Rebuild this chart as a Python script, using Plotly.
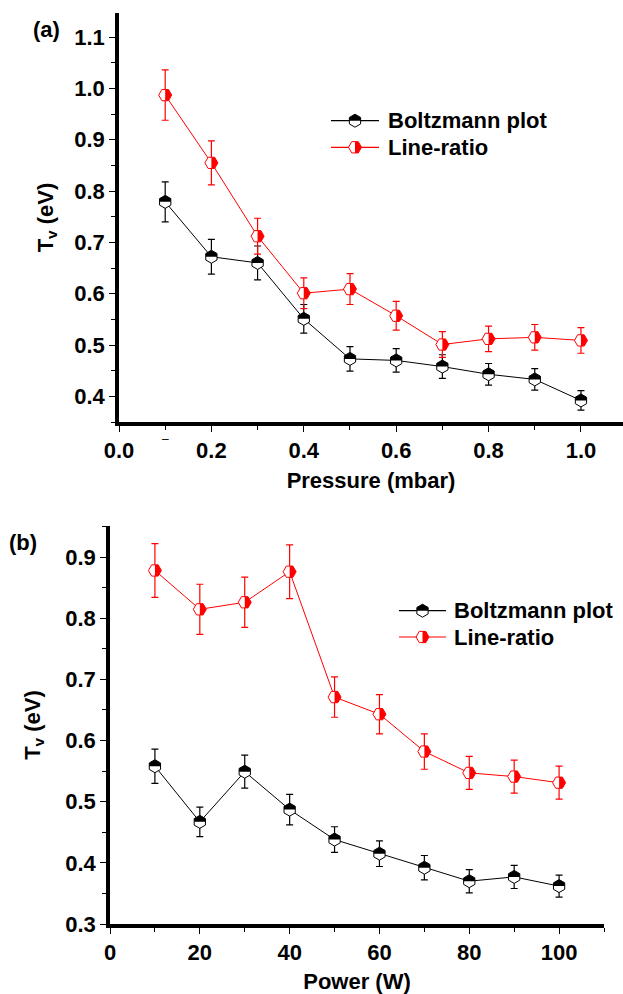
import math
import plotly.graph_objects as go

# ---------------- data ----------------
pressure = [0.1, 0.2, 0.3, 0.4, 0.5, 0.6, 0.7, 0.8, 0.9, 1.0]
a_boltz = [0.779, 0.672, 0.660, 0.551, 0.473, 0.470, 0.458, 0.443, 0.433, 0.392]
a_boltz_err = [0.039, 0.034, 0.033, 0.028, 0.024, 0.023, 0.023, 0.021, 0.021, 0.019]
a_ratio = [0.987, 0.855, 0.712, 0.601, 0.609, 0.557, 0.501, 0.512, 0.515, 0.509]
a_ratio_err = [0.049, 0.043, 0.035, 0.030, 0.030, 0.028, 0.025, 0.025, 0.025, 0.025]

power = [10, 20, 30, 40, 50, 60, 70, 80, 90, 100]
b_boltz = [0.558, 0.467, 0.549, 0.487, 0.438, 0.415, 0.392, 0.370, 0.377, 0.362]
b_boltz_err = [0.028, 0.024, 0.027, 0.025, 0.021, 0.021, 0.020, 0.019, 0.019, 0.018]
b_ratio = [0.878, 0.8145, 0.826, 0.876, 0.671, 0.643, 0.582, 0.547, 0.541, 0.531]
b_ratio_err = [0.044, 0.041, 0.041, 0.044, 0.033, 0.032, 0.029, 0.027, 0.027, 0.027]

series_names = ["Boltzmann plot", "Line-ratio"]
colors = ["black", "#ff0000"]

W, H = 623, 994
FONT = "Liberation Sans, Arial, sans-serif"
FS = 22
MS = 13  # marker size
R = MS / 2.0


def px_x(p):
    return p / W


def px_y(p):
    return 1 - p / H


def hex_top_half(r):
    h1 = r / 2
    h2 = r * math.sqrt(3) / 2
    return (f"M{h2:.2f},0 L{h2:.2f},{h1:.2f} L0,{r:.2f} "
            f"L{-h2:.2f},{h1:.2f} L{-h2:.2f},0 Z")


def hex2_right_half(r):
    h1 = r / 2
    h2 = r * math.sqrt(3) / 2
    return (f"M0,{h2:.2f} L{h1:.2f},{h2:.2f} L{r:.2f},0 "
            f"L{h1:.2f},{-h2:.2f} L0,{-h2:.2f} Z")


def hex_full(r):
    h1 = r / 2
    h2 = r * math.sqrt(3) / 2
    return (f"M{h2:.2f},{-h1:.2f} L{h2:.2f},{h1:.2f} L0,{r:.2f} "
            f"L{-h2:.2f},{h1:.2f} L{-h2:.2f},{-h1:.2f} L0,{-r:.2f} Z")


def hex2_full(r):
    h1 = r / 2
    h2 = r * math.sqrt(3) / 2
    return (f"M{-h1:.2f},{h2:.2f} L{h1:.2f},{h2:.2f} L{r:.2f},0 "
            f"L{h1:.2f},{-h2:.2f} L{-h1:.2f},{-h2:.2f} L{-r:.2f},0 Z")


symbols = ["hexagon", "hexagon2"]
half_paths = [hex_top_half(R), hex2_right_half(R)]
full_paths = [hex_full(R), hex2_full(R)]

fig = go.Figure()
shapes = []
annotations = []

panels = [
    dict(x=pressure, ys=[a_boltz, a_ratio], es=[a_boltz_err, a_ratio_err],
         xa="x", ya="y"),
    dict(x=power, ys=[b_boltz, b_ratio], es=[b_boltz_err, b_ratio_err],
         xa="x2", ya="y2"),
]

for p in panels:
    for k in range(2):
        fig.add_trace(go.Scatter(
            x=p["x"], y=p["ys"][k], mode="lines+markers",
            xaxis=p["xa"], yaxis=p["ya"], showlegend=False,
            name=series_names[k],
            line=dict(color=colors[k], width=1),
            marker=dict(symbol=symbols[k], size=MS, color="white",
                        line=dict(color=colors[k], width=1)),
            error_y=dict(type="data", array=p["es"][k], color=colors[k],
                         thickness=1.2, width=3.5),
        ))
        for xv, yv in zip(p["x"], p["ys"][k]):
            shapes.append(dict(
                type="path", xref=p["xa"], yref=p["ya"],
                xsizemode="pixel", ysizemode="pixel",
                xanchor=xv, yanchor=yv, path=half_paths[k],
                fillcolor=colors[k], line=dict(width=0), layer="above"))

# manual legends
legends = [
    dict(x0=331, x1=379, mx=355, tx=386, ys=[120.7, 147.3]),
    dict(x0=399, x1=446, mx=422.5, tx=452, ys=[610.7, 637.0]),
]
for lg in legends:
    for k in range(2):
        yy = px_y(lg["ys"][k])
        shapes.append(dict(type="line", xref="paper", yref="paper",
                           x0=px_x(lg["x0"]), x1=px_x(lg["x1"]), y0=yy, y1=yy,
                           line=dict(color=colors[k], width=1.2), layer="above"))
        shapes.append(dict(type="path", xref="paper", yref="paper",
                           xsizemode="pixel", ysizemode="pixel",
                           xanchor=px_x(lg["mx"]), yanchor=yy,
                           path=full_paths[k], fillcolor="white",
                           line=dict(color=colors[k], width=1), layer="above"))
        shapes.append(dict(type="path", xref="paper", yref="paper",
                           xsizemode="pixel", ysizemode="pixel",
                           xanchor=px_x(lg["mx"]), yanchor=yy,
                           path=half_paths[k], fillcolor=colors[k],
                           line=dict(width=0), layer="above"))
        annotations.append(dict(
            text=series_names[k], xref="paper", yref="paper",
            x=px_x(lg["tx"]), y=yy, xanchor="left", yanchor="middle",
            showarrow=False,
            font=dict(family=FONT, size=FS, color="black", weight="bold")))

# panel labels
annotations.append(dict(text="(a)", xref="paper", yref="paper",
                        x=px_x(47), y=px_y(29), xanchor="center", yanchor="middle",
                        showarrow=False,
                        font=dict(family=FONT, size=FS, color="black", weight="bold")))
annotations.append(dict(text="(b)", xref="paper", yref="paper",
                        x=px_x(23), y=px_y(542), xanchor="center", yanchor="middle",
                        showarrow=False,
                        font=dict(family=FONT, size=FS, color="black", weight="bold")))
# stray dash below 0.1 tick in panel (a)
annotations.append(dict(text="\u2013", xref="x", yref="paper",
                        x=0.1, y=px_y(439), xanchor="center", yanchor="middle",
                        showarrow=False,
                        font=dict(family=FONT, size=12, color="black")))

tickfont = dict(family=FONT, size=FS, color="black", weight="bold")
titlefont = dict(family=FONT, size=FS, color="black", weight="bold")

common = dict(showline=True, linecolor="black", linewidth=3.5, mirror=False,
              ticks="outside", ticklen=6, tickwidth=1.2, tickcolor="black",
              showgrid=False, zeroline=False, tickfont=tickfont,
              automargin=False)


def minor(dt):
    return dict(ticks="outside", ticklen=4, tickwidth=1, tickcolor="black", dtick=dt)


fig.update_layout(
    template="none",
    width=W, height=H, margin=dict(l=0, r=0, t=0, b=0, pad=0, autoexpand=False),
    paper_bgcolor="white", plot_bgcolor="white",
    showlegend=False,
    xaxis=dict(domain=[px_x(119), 1.0], range=[0, 1.091], dtick=0.2, tick0=0,
               tickformat=".1f", anchor="y", minor=minor(0.1),
               title=dict(text="Pressure (mbar)", font=titlefont, standoff=11),
               **common),
    yaxis=dict(domain=[px_y(422), px_y(13)], range=[0.35, 1.147], dtick=0.1,
               tick0=0, tickformat=".1f", anchor="x", minor=minor(0.05),
               title=dict(text="T<sub>v</sub> (eV)", font=titlefont, standoff=16),
               **common),
    xaxis2=dict(domain=[px_x(110), px_x(604)], range=[0, 110], dtick=20, tick0=0,
                anchor="y2", minor=minor(10),
                title=dict(text="Power (W)", font=titlefont, standoff=20),
                **common),
    yaxis2=dict(domain=[px_y(924), px_y(526)], range=[0.3, 0.9507], dtick=0.1,
                tick0=0, tickformat=".1f", anchor="x2", minor=minor(0.05),
                title=dict(text="T<sub>v</sub> (eV)", font=titlefont, standoff=20),
                **common),
    shapes=shapes,
    annotations=annotations,
)

fig.write_html("out.html")
